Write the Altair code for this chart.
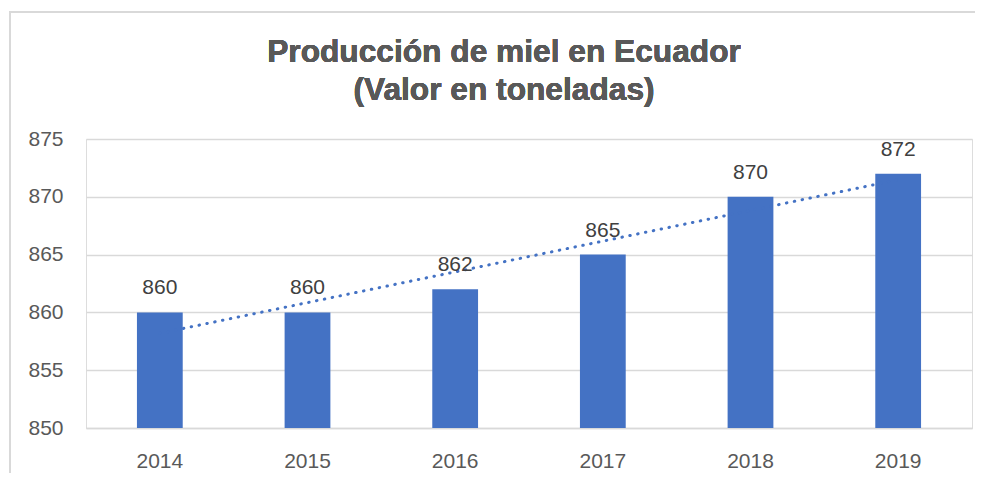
import altair as alt
import pandas as pd
import numpy as np

years = ["2014", "2015", "2016", "2017", "2018", "2019"]
values = [860, 860, 862, 865, 870, 872]
title_lines = ["Producción de miel en Ecuador", "(Valor en toneladas)"]

idx = np.arange(len(values))
slope, intercept = np.polyfit(idx, values, 1)
trend = list(intercept + slope * idx)

df = pd.DataFrame({"year": years, "value": values, "trend": trend})

W, H = 886, 289
FONT = "Liberation Sans"
x_enc = alt.X("year:N", title=None, sort=years,
              scale=alt.Scale(paddingInner=0.69, paddingOuter=0.345),
              axis=alt.Axis(labelAngle=0, labelFontSize=21, labelColor="#595959",
                            labelFont=FONT, labelPadding=22,
                            ticks=False, domainColor="#d9d9d9", domainWidth=1.5))
y_scale = alt.Scale(domain=[850, 875], nice=False, zero=False)

bars = alt.Chart(df).mark_bar(color="#4472C4", clip=True).encode(
    x=x_enc,
    y=alt.Y("value:Q", title=None, scale=y_scale,
            axis=alt.Axis(values=[850, 855, 860, 865, 870, 875], labelFontSize=21,
                          labelColor="#595959", labelFont=FONT,
                          labelPadding=23, ticks=False, domain=False,
                          gridColor="#d9d9d9", gridWidth=1.5)),
)

labels = alt.Chart(df).mark_text(baseline="alphabetic", dy=-18, fontSize=21,
                                 color="#404040", font=FONT).encode(
    x=alt.X("year:N", sort=years),
    y=alt.Y("value:Q", scale=y_scale),
    text=alt.Text("value:Q"),
)

trend_line = alt.Chart(df).mark_line(color="#4472C4", strokeWidth=3,
                                     strokeDash=[0.5, 7.5], strokeCap="round").encode(
    x=alt.X("year:N", sort=years),
    y=alt.Y("trend:Q", scale=y_scale),
)

border = alt.Chart(df).mark_rect(fill=None, stroke="#d9d9d9", strokeWidth=1.5).encode(
    x=alt.value(-76), x2=alt.value(900), y=alt.value(-127), y2=alt.value(400)
)

title1 = alt.Chart(df).mark_text(text=title_lines[0], fontSize=31.7, font=FONT,
                                 fontWeight="bold", color="#595959",
                                 align="center", baseline="alphabetic").encode(
    x=alt.value(418), y=alt.value(-77)
)
title2 = alt.Chart(df).mark_text(text=title_lines[1], fontSize=31.7, font=FONT,
                                 fontWeight="bold", color="#595959",
                                 align="center", baseline="alphabetic").encode(
    x=alt.value(418), y=alt.value(-39)
)

chart = alt.layer(border, bars, trend_line, labels, title1, title2).properties(
    width=W, height=H,
    autosize="none",
    padding={"left": 78, "top": 131, "right": 3, "bottom": 45},
).configure_view(stroke=None).configure(background="white")

chart.save("out.html", embed_options={"renderer": "svg", "actions": False})
